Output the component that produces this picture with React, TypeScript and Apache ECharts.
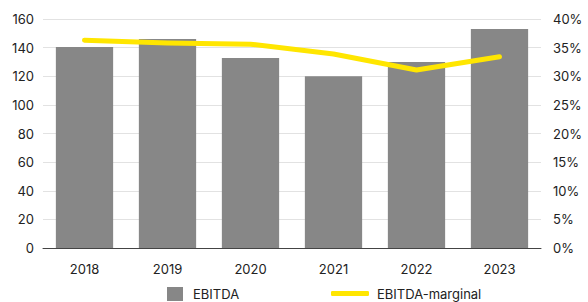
import React, { useEffect, useRef } from "react";
import * as echarts from "echarts";

const years = ["2018", "2019", "2020", "2021", "2022", "2023"];
const ebitda = [140.5, 146, 132.7, 120, 130, 153];
const margin = [36.3, 35.8, 35.6, 33.9, 31.1, 33.4];
const leftTicks = { min: 0, max: 160, interval: 20 };
const rightTicks = { min: 0, max: 40, interval: 5 };

const FONT = "Inter, 'Noto Sans', sans-serif";

export default function App() {
  const ref = useRef<HTMLDivElement>(null);
  useEffect(() => {
    const chart = echarts.init(ref.current!, null, { renderer: "svg" });
    chart.setOption({
      animation: false,
      textStyle: { fontFamily: FONT },
      grid: { left: 43, right: 47, top: 19, bottom: 54, containLabel: false, outerBoundsMode: "none" },
      legend: [
        {
          data: ["EBITDA"],
          left: 167,
          top: 287,
          padding: 0,
          itemWidth: 16,
          itemHeight: 14,
          icon: "rect",
          textStyle: { fontSize: 13, color: "#222", fontFamily: FONT, padding: [0, 0, 0, 5] },
        },
        {
          data: ["EBITDA-marginal"],
          left: 331,
          top: 287,
          padding: 0,
          itemWidth: 38,
          itemHeight: 5,
          icon: "roundRect",
          textStyle: { fontSize: 13, color: "#222", fontFamily: FONT, padding: [0, 0, 0, 3] },
        },
      ],
      xAxis: {
        type: "category",
        data: years,
        axisTick: { show: false },
        axisLine: { lineStyle: { color: "#444", width: 1 } },
        axisLabel: { fontSize: 13, color: "#222", margin: 14, fontFamily: FONT },
      },
      yAxis: [
        {
          type: "value",
          ...leftTicks,
          axisLabel: { fontSize: 13, color: "#222", margin: 9, fontFamily: FONT },
          splitLine: { lineStyle: { color: "#e2e2e2", width: 1 } },
          axisLine: { show: false },
          axisTick: { show: false },
        },
        {
          type: "value",
          ...rightTicks,
          position: "right",
          axisLabel: { fontSize: 13, color: "#222", margin: 12, formatter: "{value}%", fontFamily: FONT },
          splitLine: { show: false },
          axisLine: { show: false },
          axisTick: { show: false },
        },
      ],
      series: [
        {
          name: "EBITDA",
          type: "bar",
          data: ebitda,
          barWidth: "69%",
          itemStyle: { color: "#878787" },
        },
        {
          name: "EBITDA-marginal",
          type: "line",
          yAxisIndex: 1,
          data: margin,
          showSymbol: false,
          symbol: "none",
          lineStyle: { color: "#FFE600", width: 5, cap: "round", join: "round" },
          itemStyle: { color: "#FFE600" },
        },
      ],
    });
    return () => chart.dispose();
  }, []);
  return <div ref={ref} style={{ width: 588, height: 302, position: "absolute", left: 0, top: 0 }} />;
}
